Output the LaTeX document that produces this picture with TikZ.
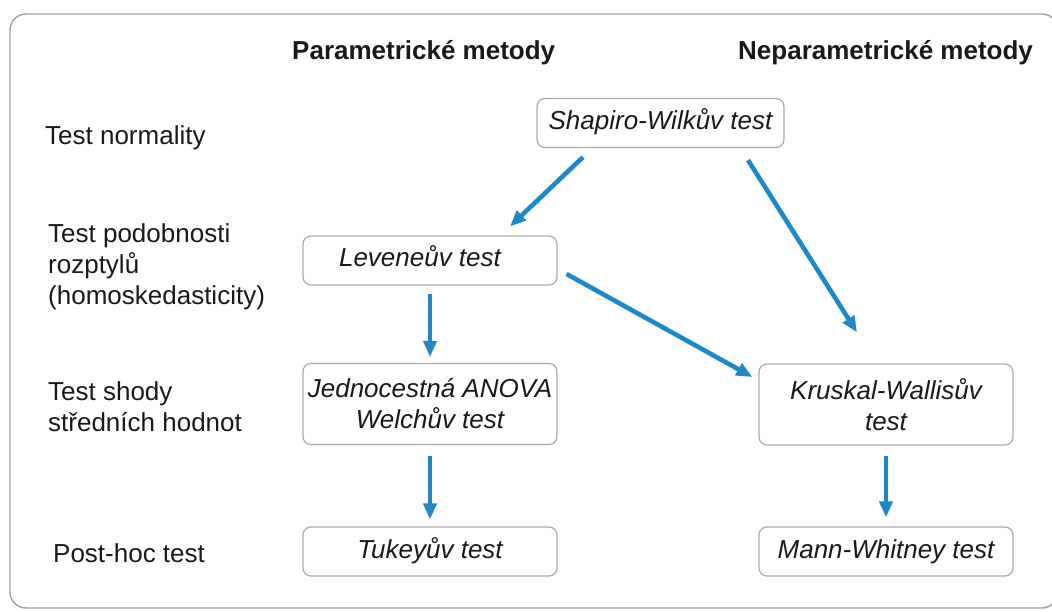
\documentclass[tikz,border=0pt]{standalone}
\usepackage{fontspec}
\setmainfont{Liberation Sans}
\usetikzlibrary{arrows.meta,calc}
\definecolor{arrowblue}{RGB}{30,136,200}
\definecolor{frameg}{RGB}{160,160,160}
\definecolor{boxg}{RGB}{170,170,170}
\definecolor{txt}{RGB}{25,25,25}
\begin{document}
\begin{tikzpicture}[x=1pt,y=-1pt,
  every node/.style={text=txt,font=\fontsize{26}{31}\selectfont},
  box/.style={draw=boxg,line width=1.2pt,rounded corners=8pt,minimum width=254pt,align=center,inner sep=0pt,font=\fontsize{26}{31}\selectfont\itshape},
  onebox/.style={box,minimum height=49pt,text height=19pt,text depth=6pt},
  twobox/.style={box,minimum height=81pt},
  lab/.style={anchor=north west,align=left,inner sep=0pt},
  head/.style={anchor=base west,inner sep=0pt,font=\fontsize{26}{31}\selectfont\bfseries},
  arr/.style={draw=arrowblue,line width=4.6pt,-{Triangle[length=16pt,width=13pt]}}
]
\useasboundingbox (0,0) rectangle (1052,612);
\draw[frameg,line width=1.4pt,rounded corners=16pt] (10,14) rectangle (1058,608);

\node[head] (hpar) at (292,60) {Parametrické metody};
\node[head] (hnep) at (738,60) {Neparametrické metody};

\node[lab] (lnorm) at (45,125.5) {Test normality};
\node[lab] (lpod) at (48,223.5) {Test podobnosti\\rozptylů\\(homoskedasticity)};
\node[lab] (lshod) at (48,381.5) {Test shody\\středních hodnot};
\node[lab] (lpost) at (53,543.5) {Post-hoc test};

\node[onebox,minimum width=247pt] (shap) at (660.5,123) {Shapiro-Wilkův test};
\node[onebox] (lev) at (430,260.5) {Leveneův test\hspace*{20pt}};
\node[twobox] (anova) at (430,404) {Jednocestná ANOVA\\Welchův test};
\node[onebox] (tukey) at (430,551.5) {Tukeyův test};
\node[twobox] (krus) at (886,404.5) {Kruskal-Wallisův\\test};
\node[onebox] (mann) at (886,551.5) {Mann-Whitney test};

\draw[arr] ($(shap.south)+(-77.5,9)$) -- ($(lev.north)+(80,-9)$);
\draw[arr] ($(shap.south)+(87.5,12)$) -- ($(krus.north)+(-29,-31)$);
\draw[arr] ($(lev.east)+(9,13.5)$) -- ($(krus.west)+(-6,-27.5)$);
\draw[arr] ($(lev.south)+(0,8)$) -- ($(anova.north)+(0,-6)$);
\draw[arr] ($(anova.south)+(0,11)$) -- ($(tukey.north)+(0,-7)$);
\draw[arr] ($(krus.south)+(0,10)$) -- ($(mann.north)+(0,-9)$);
\end{tikzpicture}
\end{document}
